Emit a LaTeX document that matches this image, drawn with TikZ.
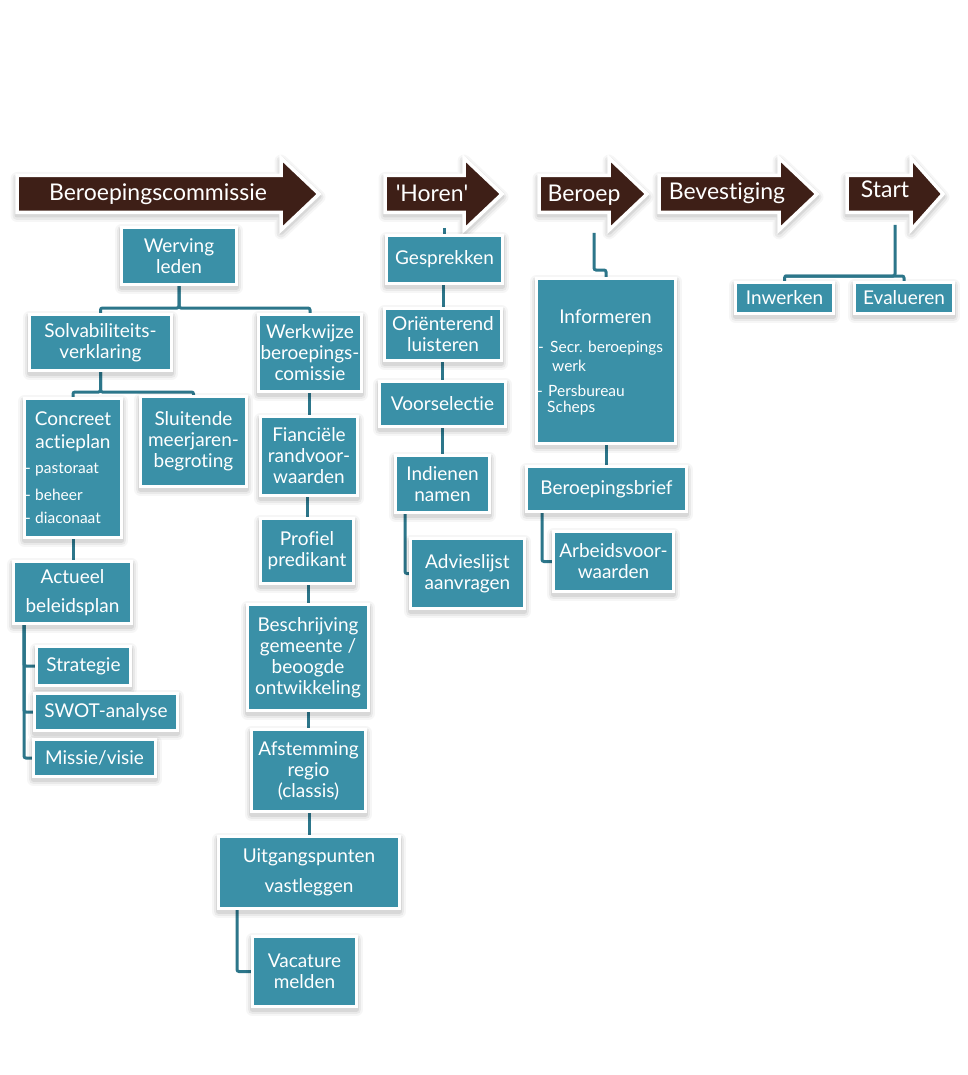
\documentclass[tikz,border=0pt]{standalone}
\usepackage{fontspec}
\setmainfont{Lato}[Ligatures=CommonOff]
\usetikzlibrary{calc}
\definecolor{tealbox}{RGB}{58,144,167}
\definecolor{tealline}{RGB}{44,118,138}
\definecolor{brownarrow}{RGB}{62,31,23}
\pgfdeclarelayer{backdrop}
\pgfdeclarelayer{bg}
\pgfsetlayers{backdrop,bg,main}
\newcommand{\sq}{\XeTeXglyph\XeTeXcharglyph"0027\relax}
\tikzset{
  softshadow/.style={
    preaction={draw=black, draw opacity=0.035, line width=13pt, line join=round, transform canvas={yshift=-3pt}},
    preaction={draw=black, draw opacity=0.05, line width=9pt, line join=round, transform canvas={yshift=-3pt}},
    preaction={draw=black, draw opacity=0.07, line width=5pt, line join=round, transform canvas={yshift=-2.5pt}}},
  box/.style={softshadow, draw=white, line width=3pt, fill=tealbox, text=white, align=center,
    inner sep=1pt, font=\fontsize{19}{21}\selectfont},
  btxt/.style={text=white, align=center, inner sep=0pt, font=\fontsize{19}{23}\selectfont},
  bul/.style={text=white, align=left, inner sep=0pt, anchor=west, font=\fontsize{15.5}{18}\selectfont},
  conn/.style={draw=tealline, line width=3pt, rounded corners=2pt},
  phase/.style={softshadow, fill=brownarrow, draw=white, line width=3.5pt, line join=miter},
  phasetxt/.style={text=white, inner sep=0pt, anchor=base, font=\fontsize{23}{26}\selectfont}
}
\newcommand{\phasearrow}[3]{%
  \filldraw[phase] (#1,175.5) -- (#2,175.5) -- (#2,158) -- (#3,194) -- (#2,230) -- (#2,212.5) -- (#1,212.5) -- cycle;
}
\begin{document}
\begin{tikzpicture}[x=1pt,y=-1pt]
\begin{pgfonlayer}{backdrop}
\fill[white] (0,0) rectangle (968,1075);
\end{pgfonlayer}
\useasboundingbox (0,0) rectangle (968,1075);

% phase arrows
\phasearrow{17}{281}{319}
\phasearrow{385}{464}{502}
\phasearrow{539}{609}{647}
\phasearrow{659}{779}{817}
\phasearrow{847}{911}{943}
\node[phasetxt] (pBc) at (158,201) {Beroepingscommissie};
\node[phasetxt] (pHo) at (432,202) {\sq Horen\sq};
\node[phasetxt] (pBe) at (584,202) {Beroep};
\node[phasetxt] (pBv) at (727,200) {Bevestiging};
\node[phasetxt] (pSt) at (885,198) {Start};

% boxes - Beroepingscommissie
\node[box, minimum width=115, minimum height=57] (werving) at (179,256) {Werving\\leden};
\node[box, minimum width=142, minimum height=56] (solv) at (100.5,342.5) {Solvabiliteits-\\verklaring};
\node[box, minimum width=103, minimum height=77] (werkwijze) at (310,353) {Werkwijze\\beroepings-\\comissie};
\node[box, minimum width=97, minimum height=139] (concreet) at (73,468) {};
\node[btxt] (concreetT) at (73,431.5) {Concreet\\actieplan};
\node[bul] (cb1) at (25,470) {\makebox[10pt][l]{-}pastoraat};
\node[bul] (cb2) at (25,495) {\makebox[10pt][l]{-}beheer};
\node[bul] (cb3) at (25,518) {\makebox[10pt][l]{-}diaconaat};
\node[box, minimum width=106, minimum height=90] (sluitende) at (193.5,441.5) {Sluitende\\meerjaren-\\begroting};
\node[box, minimum width=97, minimum height=79] (financiele) at (309,456) {Fianciële\\randvoor-\\waarden};
\node[box, minimum width=93, minimum height=65] (profiel) at (307,551) {Profiel\\predikant};
\node[box, minimum width=121, minimum height=106] (beschrijving) at (308,657.5) {Beschrijving\\gemeente /\\beoogde\\ontwikkeling};
\node[box, minimum width=114, minimum height=82] (afstemming) at (308.5,770.5) {Afstemming\\regio\\(classis)};
\node[box, minimum width=181, minimum height=72] (uitgangspunten) at (309,872.5) {Uitgangspunten\\[9pt]vastleggen};
\node[box, minimum width=104, minimum height=70] (vacature) at (304.5,971.5) {Vacature\\melden};
\node[box, minimum width=118, minimum height=62] (actueel) at (72.5,592.5) {Actueel\\[8pt]beleidsplan};
\node[box, minimum width=94, minimum height=39] (strategie) at (83.5,666) {Strategie};
\node[box, minimum width=143, minimum height=37] (swot) at (106,712) {SWOT-analyse};
\node[box, minimum width=122, minimum height=37] (missie) at (94.5,758) {Missie/visie};

% boxes - Horen
\node[box, minimum width=116, minimum height=48] (gesprekken) at (444.5,259.5) {Gesprekken};
\node[box, minimum width=117, minimum height=52] (orienterend) at (443,334.5) {Oriënterend\\luisteren};
\node[box, minimum width=126, minimum height=45] (voorselectie) at (442.5,404) {Voorselectie};
\node[box, minimum width=94, minimum height=57] (indienen) at (442.5,484) {Indienen\\namen};
\node[box, minimum width=114, minimum height=70] (advieslijst) at (467.5,573.5) {Advieslijst\\aanvragen};

% boxes - Beroep
\node[box, minimum width=139, minimum height=165] (informeren) at (606,361) {};
\node[btxt] (informerenT) at (605.5,317) {Informeren};
\node[bul] (ib1) at (538,348) {\makebox[12pt][l]{-}Secr. beroepings};
\node[bul] (ib2) at (552,366) {werk};
\node[bul] (ib3) at (537,391) {\makebox[11pt][l]{-}Persbureau};
\node[bul] (ib4) at (547,408) {Scheps};
\node[box, minimum width=160, minimum height=45] (beroepingsbrief) at (606.5,489) {Beroepingsbrief};
\node[box, minimum width=120, minimum height=60] (arbeids) at (613.5,561.5) {Arbeidsvoor-\\waarden};

% boxes - Start
\node[box, minimum width=98, minimum height=31] (inwerken) at (784.5,298) {Inwerken};
\node[box, minimum width=99, minimum height=31] (evalueren) at (904,298) {Evalueren};

\coordinate (horenfoot) at (444,228);
\coordinate (beroepfoot) at (594,233);
\coordinate (startfoot) at (895,225);

\begin{pgfonlayer}{bg}
\draw[conn] (werving.south) -- ++(0,22) -| (solv.north);
\draw[conn] (werving.south) -- ++(0,22) -| (werkwijze.north);
\draw[conn] (solv.south) -- ++(0,20) -| (concreet.north);
\draw[conn] (solv.south) -- ++(0,20) -| (sluitende.north);
\draw[conn] (financiele.north) -- (financiele.north |- werkwijze.south);
\draw[conn] (profiel.north) -- (profiel.north |- financiele.south);
\draw[conn] (beschrijving.north) -- (beschrijving.north |- profiel.south);
\draw[conn] (afstemming.north) -- (afstemming.north |- beschrijving.south);
\draw[conn] (uitgangspunten.north) -- (uitgangspunten.north |- afstemming.south);
\draw[conn] ($(uitgangspunten.south west)+(20,0)$) |- (vacature.west);
\draw[conn] (concreet.south) -- (concreet.south |- actueel.north);
\draw[conn] ($(actueel.south west)+(12,0)$) |- (strategie.west);
\draw[conn] ($(actueel.south west)+(12,0)$) |- (swot.west);
\draw[conn] ($(actueel.south west)+(12,0)$) |- (missie.west);
\draw[conn] (horenfoot) -- (horenfoot |- gesprekken.north);
\draw[conn] (orienterend.north) -- (orienterend.north |- gesprekken.south);
\draw[conn] (voorselectie.north) -- (voorselectie.north |- orienterend.south);
\draw[conn] (indienen.north) -- (indienen.north |- voorselectie.south);
\draw[conn] ($(indienen.south west)+(11,0)$) |- (advieslijst.west);
\draw[conn] (beroepfoot) |- ($(informeren.north)+(0,-7)$) -- (informeren.north);
\draw[conn] (informeren.south) -- (informeren.south |- beroepingsbrief.north);
\draw[conn] ($(beroepingsbrief.south west)+(17,0)$) |- (arbeids.west);
\draw[conn] (startfoot) |- ($(inwerken.north)+(0,-5)$) -- (inwerken.north);
\draw[conn] ($(inwerken.north)+(0,-5)$) -| (evalueren.north);
\end{pgfonlayer}
\end{tikzpicture}
\end{document}
